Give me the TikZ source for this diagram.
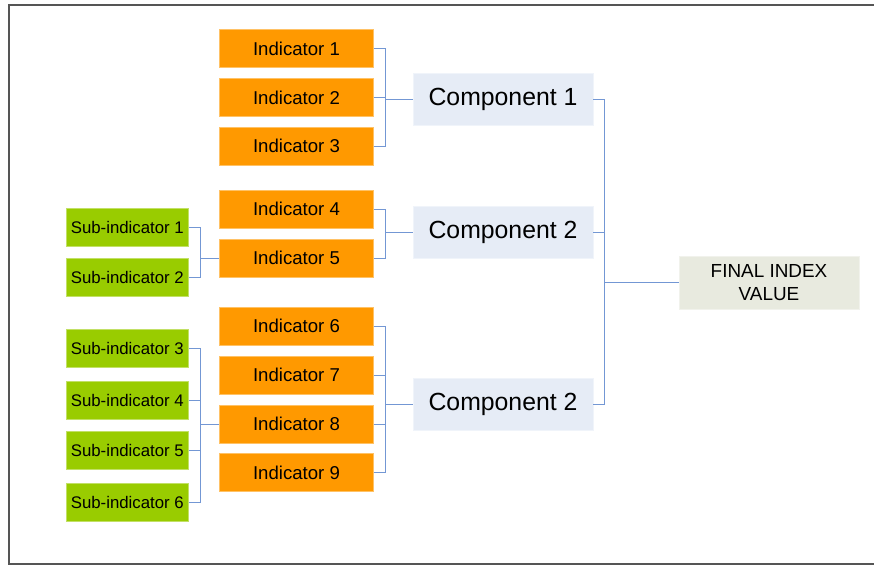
\documentclass[tikz,border=0pt]{standalone}
\usepackage{fontspec}
\setmainfont{Liberation Sans}
\definecolor{indc}{HTML}{FF9900}
\definecolor{subc}{HTML}{99CC00}
\definecolor{compc}{HTML}{E6ECF6}
\definecolor{finc}{HTML}{E8EADF}
\definecolor{linec}{HTML}{7397D4}
\definecolor{framec}{HTML}{555555}
\tikzset{
  box/.style={inner sep=0pt, line width=0.6pt, align=center},
  ind/.style={box, fill=indc, draw=indc!60!white, minimum width=154pt, minimum height=38pt, font=\fontsize{18.6}{22}\selectfont},
  sub/.style={box, fill=subc, draw=subc!60!white, minimum width=122.5pt, minimum height=38pt, font=\fontsize{16.8}{20}\selectfont},
  comp/.style={box, fill=compc, draw=compc!60!white, minimum width=180pt, minimum height=52pt, font=\fontsize{24.8}{28}\selectfont},
  fin/.style={box, fill=finc, draw=finc!60!white, minimum width=180pt, minimum height=53pt, font=\fontsize{18.9}{22.7}\selectfont},
  conn/.style={draw=linec, line width=1pt},
}
\begin{document}
\begin{tikzpicture}[x=1pt,y=-1pt]
\useasboundingbox (0,0) rectangle (874,565);
\draw[framec, line width=2pt] (880,5) -- (9,5) -- (9,564) -- (880,564);
% indicators
\node[ind] (i1) at (296.5,48.5) {Indicator 1};
\node[ind] (i2) at (296.5,97.5) {Indicator 2};
\node[ind] (i3) at (296.5,146) {Indicator 3};
\node[ind] (i4) at (296.5,209) {Indicator 4};
\node[ind] (i5) at (296.5,258) {Indicator 5};
\node[ind] (i6) at (296.5,326) {Indicator 6};
\node[ind] (i7) at (296.5,375) {Indicator 7};
\node[ind] (i8) at (296.5,424) {Indicator 8};
\node[ind] (i9) at (296.5,472.5) {Indicator 9};
% sub-indicators
\node[sub] (s1) at (127.3,227.5) {Sub-indicator 1};
\node[sub] (s2) at (127.3,277) {Sub-indicator 2};
\node[sub] (s3) at (127.3,348.5) {Sub-indicator 3};
\node[sub] (s4) at (127.3,400) {Sub-indicator 4};
\node[sub] (s5) at (127.3,450) {Sub-indicator 5};
\node[sub] (s6) at (127.3,502) {Sub-indicator 6};
% components
\node[comp] (c1) at (503,99) {Component 1};
\node[comp] (c2) at (503,232) {Component 2};
\node[comp] (c3) at (503,404) {Component 2};
% final
\node[fin] (f) at (769,282.5) {FINAL INDEX\\VALUE};
% bus coordinates
\coordinate (b1) at (385,99);
\coordinate (b2) at (385,232);
\coordinate (b3) at (385,404);
\coordinate (bs1) at (200,258);
\coordinate (bs2) at (200,424);
\coordinate (b0) at (604,282.5);
% connectors
\draw[conn] (i1.east) -| (b1);
\draw[conn] (i3.east) -| (b1);
\draw[conn] (i2.east) -- (i2.east -| b1);
\draw[conn] (b1) -- (c1.west);
\draw[conn] (i4.east) -| (b2);
\draw[conn] (i5.east) -| (b2);
\draw[conn] (b2) -- (c2.west);
\draw[conn] (i6.east) -| (b3);
\draw[conn] (i9.east) -| (b3);
\draw[conn] (i7.east) -- (i7.east -| b3);
\draw[conn] (i8.east) -- (i8.east -| b3);
\draw[conn] (b3) -- (c3.west);
\draw[conn] (s1.east) -| (bs1);
\draw[conn] (s2.east) -| (bs1);
\draw[conn] (bs1) -- (i5.west);
\draw[conn] (s3.east) -| (bs2);
\draw[conn] (s6.east) -| (bs2);
\draw[conn] (s4.east) -- (s4.east -| bs2);
\draw[conn] (s5.east) -- (s5.east -| bs2);
\draw[conn] (bs2) -- (i8.west);
\draw[conn] (c1.east) -| (b0);
\draw[conn] (c3.east) -| (b0);
\draw[conn] (c2.east) -- (c2.east -| b0);
\draw[conn] (b0) -- (f.west);
\end{tikzpicture}
\end{document}
